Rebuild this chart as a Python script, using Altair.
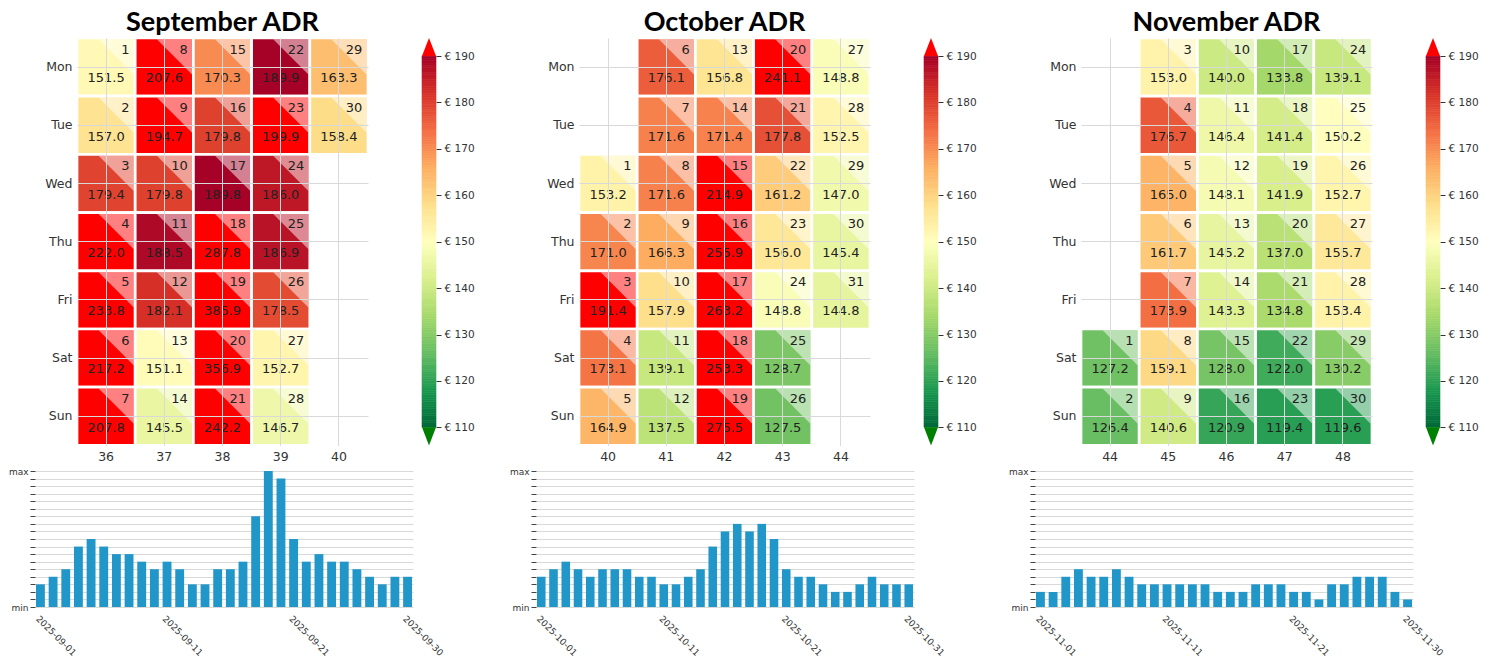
import datetime as dt
import altair as alt
import pandas as pd

DAYS = ["Mon", "Tue", "Wed", "Thu", "Fri", "Sat", "Sun"]

sep_adr = [151.5, 157.0, 179.4, 222.0, 233.8, 217.2, 207.8,
           207.6, 194.7, 179.8, 188.5, 182.1, 151.1, 145.5,
           170.3, 179.8, 189.8, 287.8, 385.9, 356.9, 242.2,
           189.9, 199.9, 186.0, 186.9, 178.5, 152.7, 146.7,
           163.3, 158.4]
oct_adr = [153.2, 171.0, 191.4, 173.1, 164.9,
           176.1, 171.6, 171.6, 166.3, 157.9, 139.1, 137.5,
           156.8, 171.4, 214.9, 255.9, 263.2, 253.3, 275.5,
           241.1, 177.8, 161.2, 156.0, 148.8, 128.7, 127.5,
           148.8, 152.5, 147.0, 145.4, 144.8]
nov_adr = [127.2, 126.4,
           153.0, 176.7, 165.0, 161.7, 173.9, 159.1, 140.6,
           140.0, 146.4, 148.1, 145.2, 143.3, 128.0, 120.9,
           133.8, 141.4, 141.9, 137.0, 134.8, 122.0, 119.4,
           139.1, 150.2, 152.7, 155.7, 153.4, 130.2, 119.6]

sep_bars = [3, 4, 5, 8, 9, 8, 7, 7, 6, 5, 6, 5, 3, 3, 5, 5, 6, 12, 18, 17,
            9, 6, 7, 6, 6, 5, 4, 3, 4, 4]
oct_bars = [4, 5, 6, 5, 4, 5, 5, 5, 4, 4, 3, 3, 4, 5, 8, 10, 11, 10, 11, 9,
            5, 4, 4, 3, 2, 2, 3, 4, 3, 3, 3]
nov_bars = [2, 2, 4, 5, 4, 4, 5, 4, 3, 3, 3, 3, 3, 3, 2, 2, 2, 3, 3, 3,
            2, 2, 1, 3, 3, 4, 4, 4, 2, 1]

titles = ["September ADR", "October ADR", "November ADR"]
month_nums = [9, 10, 11]
YEAR = 2025

LIMITS = [110, 190]
CB_TICKS = list(range(110, 191, 10))
RDYLGN = ["#006837", "#1a9850", "#66bd63", "#a6d96a", "#d9ef8b", "#ffffbf",
          "#fee08b", "#fdae61", "#f46d43", "#d73027", "#a50026"]
STOPS = [LIMITS[0] + i * (LIMITS[1] - LIMITS[0]) / 10 for i in range(11)]
OVER, UNDER = "#ff0000", "#008000"
BAR_COLOR = "#2196c8"
TXT = "#222222"
LAB = "#333333"
GRID = "#d9d9d9"

cscale = alt.Scale(domain=STOPS, range=RDYLGN, interpolate="rgb")
ymax_bars = max(sep_bars + oct_bars + nov_bars)

TRI = "M -0.27 -1 L 1 -1 L 1 0.27 Z"
UP = "M -1 0 L 1 0 L 0 -2.6 Z"
DOWN = "M -1 0 L 1 0 L 0 2.6 Z"

CELL = 58.2
HEAT_W, HEAT_H = 5 * CELL, 7 * CELL
BAR_W, BAR_H = 378, 136


def cal_df(month, adr):
    first = dt.date(YEAR, month, 1)
    rows, weeks, present = [], [], set()
    for i, v in enumerate(adr):
        d = first + dt.timedelta(days=i)
        wk = d.isocalendar()[1]
        rows.append(dict(week=wk, dow=DAYS[d.weekday()], day=str(d.day), adr=v))
        present.add((wk, DAYS[d.weekday()]))
        if wk not in weeks:
            weeks.append(wk)
    for wk in weeks:
        for dn in DAYS:
            if (wk, dn) not in present:
                rows.append(dict(week=wk, dow=dn, day="", adr=None))
    return pd.DataFrame(rows)


def spacer(w):
    return alt.Chart(pd.DataFrame({"z": [0]})).mark_point(opacity=0, size=1).encode(
        x=alt.value(0), y=alt.value(0)).properties(width=w, height=10)


def heat_chart(title, month, adr):
    df = cal_df(month, adr)
    ax_common = dict(title=None, grid=True, ticks=False, tickSize=0, domain=False,
                     labelFontSize=12.5, labelColor=LAB, labelFont="DejaVu Sans",
                     gridColor=GRID, gridWidth=1, bandPosition=0.5)
    base = alt.Chart(df).encode(
        x=alt.X("week:O", scale=alt.Scale(paddingInner=0, paddingOuter=0),
                axis=alt.Axis(labelAngle=0, labelPadding=5, **ax_common)),
        y=alt.Y("dow:O", sort=DAYS, scale=alt.Scale(paddingInner=0, paddingOuter=0),
                axis=alt.Axis(labelPadding=5, **ax_common)),
    )
    valid = "isValid(datum.adr)"
    rects = base.transform_filter(valid).mark_rect(stroke="white", strokeWidth=2.7).encode(
        color=alt.when(alt.datum.adr > LIMITS[1]).then(alt.value(OVER)).otherwise(
            alt.Color("adr:Q", scale=cscale, legend=None)))
    empties = base.transform_filter("!isValid(datum.adr)").mark_rect(
        fillOpacity=0, stroke="white", strokeWidth=2.7)
    tri = base.transform_filter(valid).mark_point(
        shape=TRI, size=(CELL - 2.7) ** 2, filled=True, color="white", opacity=0.5,
        strokeWidth=0)
    daytxt = base.transform_filter(valid).mark_text(
        align="right", baseline="alphabetic", dx=23.5, dy=-13.5, fontSize=13,
        font="DejaVu Sans", color=TXT).encode(text="day:N")
    valtxt = base.transform_filter(valid).mark_text(
        align="center", baseline="alphabetic", dy=15.3, fontSize=13,
        font="DejaVu Sans", color=TXT).encode(text=alt.Text("adr:Q", format=".1f"))
    return alt.layer(empties, rects, tri, daytxt, valtxt).properties(
        width=HEAT_W, height=HEAT_H,
        title=alt.TitleParams(title, fontSize=27, font="Lato", fontWeight="bold",
                              anchor="middle", frame="group", offset=-21,
                              baseline="alphabetic", color="black"))


def colorbar():
    step = 0.5
    n = int((LIMITS[1] - LIMITS[0]) / step)
    vals = [LIMITS[0] + step * i for i in range(n)]
    df = pd.DataFrame({"v": vals, "v2": [v + step for v in vals], "c": [v + step / 2 for v in vals]})
    ext = 3.9
    ysc = alt.Scale(domain=[LIMITS[0] - ext, LIMITS[1] + ext], nice=False, zero=False)
    yax = alt.Axis(orient="right", values=CB_TICKS, labelExpr="'€ ' + datum.value",
                   title=None, grid=False, domain=False, tickSize=5, tickColor=LAB,
                   tickWidth=1, labelFontSize=10.5, labelColor=LAB, labelFont="DejaVu Sans",
                   labelPadding=3)
    bar = alt.Chart(df).mark_rect(strokeWidth=0.6).encode(
        y=alt.Y("v:Q", scale=ysc, axis=yax), y2="v2",
        x=alt.value(0), x2=alt.value(14),
        color=alt.Color("c:Q", scale=cscale, legend=None),
        stroke=alt.Stroke("c:Q", scale=cscale, legend=None))
    ends = pd.DataFrame({"v": LIMITS, "kind": ["under", "over"]})
    up = alt.Chart(ends).transform_filter("datum.kind == 'over'").mark_point(
        shape=UP, size=196, filled=True, color=OVER, opacity=1, strokeWidth=0).encode(
        y=alt.Y("v:Q", scale=ysc, axis=yax), x=alt.value(7))
    down = alt.Chart(ends).transform_filter("datum.kind == 'under'").mark_point(
        shape=DOWN, size=196, filled=True, color=UNDER, opacity=1, strokeWidth=0).encode(
        y=alt.Y("v:Q", scale=ysc, axis=yax), x=alt.value(7))
    return alt.layer(bar, up, down).properties(width=14, height=HEAT_H)


def bar_chart(month, counts):
    dates = [f"{YEAR}-{month:02d}-{i + 1:02d}" for i in range(len(counts))]
    df = pd.DataFrame({"date": dates, "n": counts})
    return alt.Chart(df).mark_bar(color=BAR_COLOR).encode(
        x=alt.X("date:O", title=None, scale=alt.Scale(paddingInner=0.3, paddingOuter=0.08),
                axis=alt.Axis(values=[dates[0], dates[10], dates[20], dates[-1]],
                              labelAngle=45, labelAlign="left", labelBaseline="top",
                              ticks=False, tickSize=0, domain=False, grid=False,
                              labelFontSize=9, labelColor=LAB, labelFont="DejaVu Sans",
                              labelPadding=7)),
        y=alt.Y("n:Q", scale=alt.Scale(domain=[0, ymax_bars], nice=False, zero=True),
                axis=alt.Axis(values=list(range(ymax_bars + 1)),
                              labelExpr=f"datum.value == 0 ? 'min' : datum.value == {ymax_bars} ? 'max' : ''",
                              title=None, domain=False, tickSize=5, tickColor="#444444",
                              tickWidth=1, gridColor=GRID, gridWidth=1,
                              labelFontSize=9, labelColor=LAB, labelFont="DejaVu Sans",
                              labelPadding=2)),
    ).properties(width=BAR_W, height=BAR_H)


adrs = [sep_adr, oct_adr, nov_adr]
counts_all = [sep_bars, oct_bars, nov_bars]

top_items = []
heat_lefts = [67, 569, 1071]
x = 0
for title, m, adr, hl in zip(titles, month_nums, adrs, heat_lefts):
    top_items.append(spacer(hl - x))
    top_items.append(heat_chart(title, m, adr))
    top_items.append(spacer(54))
    top_items.append(colorbar())
    x = hl + HEAT_W + 54 + 14
top_row = alt.hconcat(*top_items, spacing=0, bounds="flush")

bot_items = []
bar_lefts = [25, 526, 1025]
x = 0
for m, counts, bl in zip(month_nums, counts_all, bar_lefts):
    bot_items.append(spacer(bl - x))
    bot_items.append(bar_chart(m, counts))
    x = bl + BAR_W
bot_row = alt.hconcat(*bot_items, spacing=0, bounds="flush")

chart = alt.vconcat(top_row, bot_row, spacing=4).properties(
    padding=0
).configure_view(strokeWidth=0).resolve_scale(color="shared")

chart.save("out.html", embed_options={"renderer": "svg", "actions": False})
